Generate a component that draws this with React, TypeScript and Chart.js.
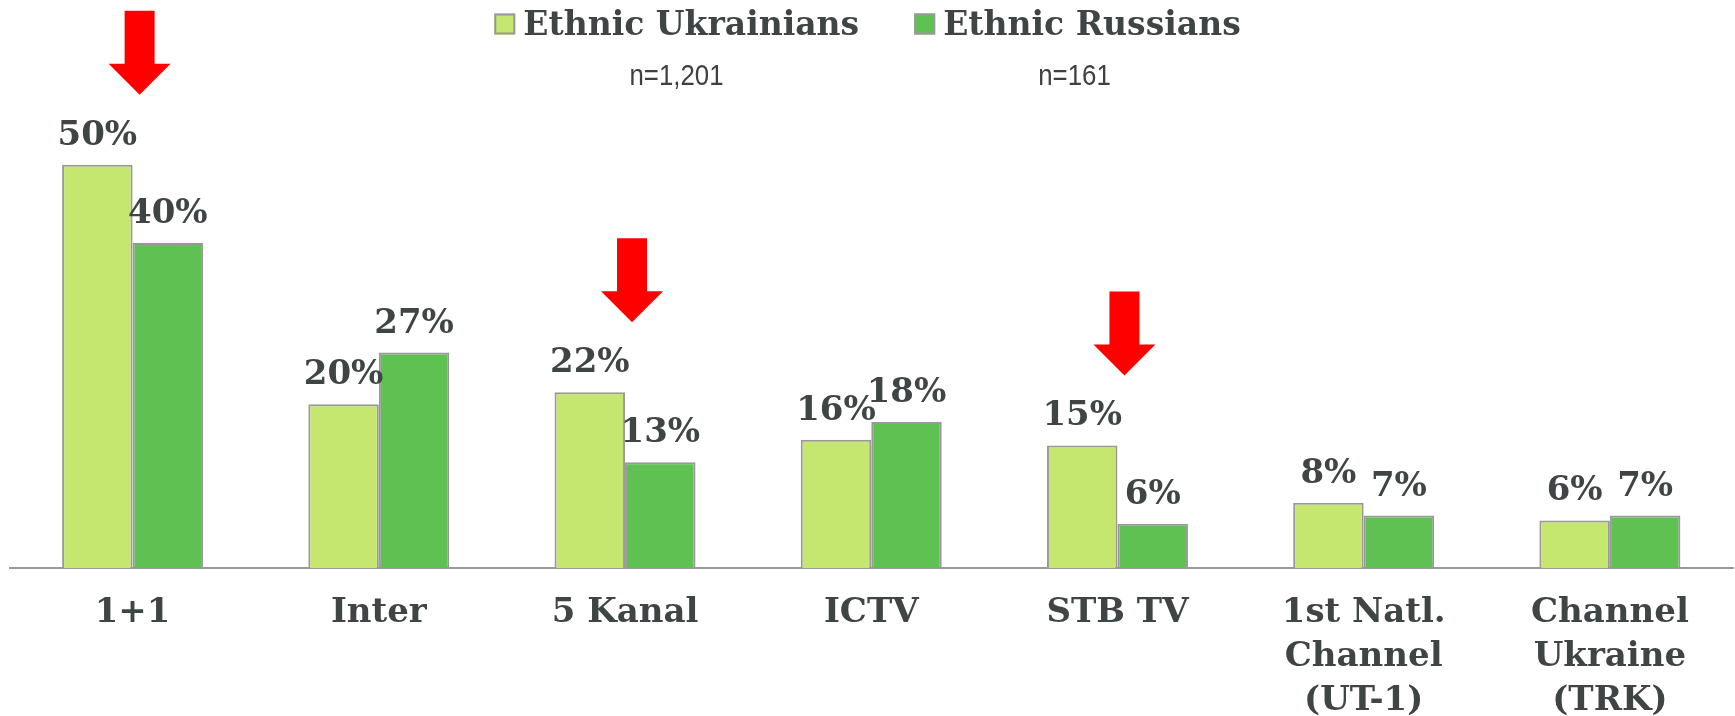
import React, { useEffect, useRef } from "react";
import { Chart, registerables } from "chart.js";

Chart.register(...registerables);

const categories: string[][] = [
  ["1+1"],
  ["Inter"],
  ["5 Kanal"],
  ["ICTV"],
  ["STB TV"],
  ["1st Natl.", "Channel", "(UT-1)"],
  ["Channel", "Ukraine", "(TRK)"],
];
const seriesNames = ["Ethnic Ukrainians", "Ethnic Russians"];
const sampleSizes = ["n=1,201", "n=161"];
const ukrainians = [50, 20.3, 21.8, 15.9, 15.2, 8.1, 5.9];
const russians = [40.3, 26.7, 13.1, 18.1, 5.5, 6.5, 6.5];
const ukrainianLabels = ["50%", "20%", "22%", "16%", "15%", "8%", "6%"];
const russianLabels = ["40%", "27%", "13%", "18%", "6%", "7%", "7%"];
const arrowCategories = [0, 2, 4];

const LIGHT = "#C5E66F";
const DARK = "#5FC151";
const EDGE = "#999999";
const TEXT = "#3F4545";
const SERIF = "'DejaVu Serif', Georgia, serif";

const overlay = {
  id: "overlay",
  afterDraw(chart: any) {
    const ctx = chart.ctx as CanvasRenderingContext2D;
    const labelSets = [ukrainianLabels, russianLabels];
    // data labels
    ctx.save();
    ctx.font = `bold 34px ${SERIF}`;
    ctx.fillStyle = TEXT;
    ctx.textAlign = "center";
    ctx.textBaseline = "alphabetic";
    [0, 1].forEach((di) => {
      const meta = chart.getDatasetMeta(di);
      meta.data.forEach((bar: any, i: number) => {
        ctx.fillText(labelSets[di][i], bar.x, bar.y - 20);
      });
    });
    ctx.restore();

    // arrows
    const ukMeta = chart.getDatasetMeta(0);
    const xs = chart.scales.x;
    ctx.save();
    ctx.fillStyle = "#FF0000";
    arrowCategories.forEach((ci) => {
      const cx = xs.getPixelForValue(ci) + 7;
      const tip = ukMeta.data[ci].y - 70;
      const headH = 31, headW = 62, shaftW = 30, total = 84;
      ctx.beginPath();
      ctx.moveTo(cx - shaftW / 2, tip - total);
      ctx.lineTo(cx + shaftW / 2, tip - total);
      ctx.lineTo(cx + shaftW / 2, tip - headH);
      ctx.lineTo(cx + headW / 2, tip - headH);
      ctx.lineTo(cx, tip);
      ctx.lineTo(cx - headW / 2, tip - headH);
      ctx.lineTo(cx - shaftW / 2, tip - headH);
      ctx.closePath();
      ctx.fill();
    });
    ctx.restore();

    // legend
    ctx.save();
    const box = 21, gap = 8, spacing = 55;
    const legendFont = `bold 33px ${SERIF}`;
    ctx.font = legendFont;
    const widths = seriesNames.map((n) => box + gap + ctx.measureText(n).width);
    const total = widths[0] + spacing + widths[1];
    let x = chart.width / 2 - total / 2;
    const colors = [LIGHT, DARK];
    seriesNames.forEach((name, i) => {
      ctx.fillStyle = colors[i];
      ctx.fillRect(x, 13.5, box, box);
      ctx.strokeStyle = EDGE;
      ctx.lineWidth = 2;
      ctx.strokeRect(x + 1, 14.5, box - 2, box - 2);
      ctx.fillStyle = TEXT;
      ctx.textAlign = "left";
      ctx.textBaseline = "alphabetic";
      ctx.font = legendFont;
      ctx.fillText(name, x + box + gap, 35);
      x += widths[i] + spacing;
    });
    // sample sizes below the legend
    const sampleOffsets = [-191, 207];
    sampleSizes.forEach((s, i) => {
      ctx.save();
      ctx.translate(chart.width / 2 + sampleOffsets[i], 84.5);
      ctx.scale(0.86, 1);
      ctx.font = "30px 'Liberation Sans', Arial, sans-serif";
      ctx.fillStyle = "#404040";
      ctx.textAlign = "center";
      ctx.fillText(s, 0, 0);
      ctx.restore();
    });
    ctx.restore();
  },
};

export default function App() {
  const ref = useRef<HTMLCanvasElement | null>(null);
  useEffect(() => {
    if (!ref.current) return;
    const chart = new Chart(ref.current, {
      type: "bar",
      data: {
        labels: categories,
        datasets: [
          {
            label: seriesNames[0],
            data: ukrainians,
            backgroundColor: LIGHT,
            borderColor: EDGE,
            borderWidth: 2,
            categoryPercentage: 0.5727,
            barPercentage: 1,
          },
          {
            label: seriesNames[1],
            data: russians,
            backgroundColor: DARK,
            borderColor: EDGE,
            borderWidth: 2,
            categoryPercentage: 0.5727,
            barPercentage: 1,
          },
        ],
      },
      options: {
        animation: false,
        responsive: true,
        maintainAspectRatio: false,
        layout: { padding: { top: 84, left: 9.5, right: 2, bottom: 0 } },
        plugins: {
          legend: { display: false },
          tooltip: { enabled: false },
          title: { display: false },
        },
        scales: {
          x: {
            grid: { display: false, drawTicks: false },
            border: { display: true, color: EDGE, width: 2 },
            ticks: {
              padding: 23,
              color: TEXT,
              font: { family: SERIF, weight: "bold", size: 34, lineHeight: "44px" } as any,
              maxRotation: 0,
              autoSkip: false,
            },
            afterFit: (scale: any) => {
              scale.height = 148;
            },
          },
          y: {
            display: false,
            min: 0,
            max: 60,
          },
        },
      },
      plugins: [overlay],
    });
    return () => chart.destroy();
  }, []);
  return (
    <div style={{ position: "absolute", left: 0, top: 0, width: 1735, height: 716, background: "#fff" }}>
      <canvas ref={ref} />
    </div>
  );
}
